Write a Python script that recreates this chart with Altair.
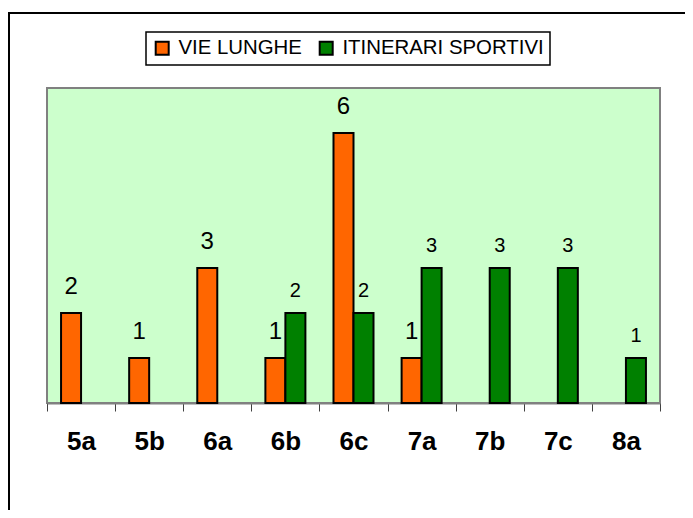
import altair as alt
import pandas as pd

categories = ["5a", "5b", "6a", "6b", "6c", "7a", "7b", "7c", "8a"]
series_names = ["VIE LUNGHE", "ITINERARI SPORTIVI"]
vie_lunghe = [2, 1, 3, 1, 6, 1, 0, 0, 0]
itinerari_sportivi = [0, 0, 0, 2, 2, 3, 3, 3, 1]
colors = ["#FF6600", "#008000"]

rows = []
for c, v in zip(categories, vie_lunghe):
    rows.append({"grade": c, "series": series_names[0], "value": v})
for c, v in zip(categories, itinerari_sportivi):
    rows.append({"grade": c, "series": series_names[1], "value": v})
df = pd.DataFrame(rows)

FONT = "Liberation Sans"

base = alt.Chart(df).transform_filter("datum.value > 0")

x_enc = alt.X(
    "grade:N",
    sort=categories,
    scale=alt.Scale(paddingInner=0, paddingOuter=0),
    axis=alt.Axis(
        title=None,
        labelAngle=0,
        labelFont=FONT,
        labelFontSize=26,
        labelFontWeight="bold",
        labelColor="black",
        labelPadding=17,
        tickBand="extent",
        tickSize=8,
        tickColor="#404040",
        tickWidth=1,
        domainColor="#808080",
        domainWidth=2,
        grid=False,
    ),
)
xoff_enc = alt.XOffset(
    "series:N",
    sort=series_names,
    scale=alt.Scale(domain=series_names, paddingInner=0, paddingOuter=0.7025),
)
y_enc = alt.Y("value:Q", scale=alt.Scale(domain=[0, 7]), axis=None)

bars = base.mark_bar(stroke="black", strokeWidth=2).encode(
    x=x_enc,
    xOffset=xoff_enc,
    y=y_enc,
    color=alt.Color(
        "series:N",
        sort=series_names,
        scale=alt.Scale(domain=series_names, range=colors),
        legend=alt.Legend(title=None),
    ),
)

lab_vie = base.transform_filter(
    alt.datum.series == series_names[0]
).mark_text(font=FONT, fontSize=24, color="black", baseline="alphabetic", dy=-19).encode(
    x=x_enc, xOffset=xoff_enc, y=y_enc, text="value:Q"
)
lab_iti = base.transform_filter(
    alt.datum.series == series_names[1]
).mark_text(font=FONT, fontSize=20, color="black", baseline="alphabetic", dy=-16).encode(
    x=x_enc, xOffset=xoff_enc, y=y_enc, text="value:Q"
)

frame_df = pd.DataFrame({"k": [0]})
frame_top = alt.Chart(frame_df).mark_rule(color="black", strokeWidth=2).encode(
    x=alt.value(-39), x2=alt.value(700), y=alt.value(-75)
)
frame_left = alt.Chart(frame_df).mark_rule(color="black", strokeWidth=2).encode(
    x=alt.value(-38), y=alt.value(-76), y2=alt.value(500)
)

chart = (
    alt.layer(bars, lab_vie, lab_iti, frame_top, frame_left)
    .properties(
        width=613,
        height=315,
        autosize=alt.AutoSizeParams(type="none"),
        padding={"left": 39, "top": 80, "right": 25, "bottom": 107},
        background="white",
    )
    .configure_view(fill="#CCFFCC", stroke="#808080", strokeWidth=2)
    .configure_legend(
        orient="none",
        legendX=99,
        legendY=-56,
        direction="horizontal",
        strokeColor="black",
        strokeWidth=1.5,
        fillColor="white",
        padding=6,
        symbolType="square",
        symbolSize=169,
        symbolStrokeColor="black",
        symbolStrokeWidth=2,
        symbolOpacity=1,
        labelFont=FONT,
        labelFontSize=20.4,
        labelColor="black",
        labelOffset=6,
        columnPadding=13,
        labelLimit=400,
    )
)

chart.save("out.html", embed_options={"renderer": "svg", "actions": False})
